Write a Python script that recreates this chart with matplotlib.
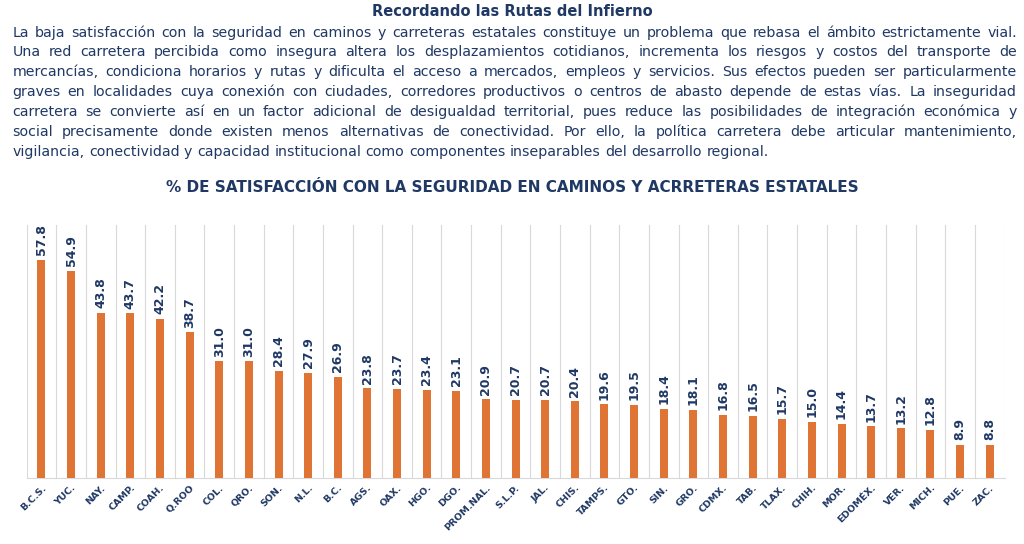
import matplotlib.pyplot as plt
import numpy as np

NAVY = '#1f3864'
ORANGE = '#e07434'

states = ['B.C.S.', 'YUC.', 'NAY.', 'CAMP.', 'COAH.', 'Q.ROO', 'COL.', 'QRO.', 'SON.', 'N.L.',
          'B.C.', 'AGS.', 'OAX.', 'HGO.', 'DGO.', 'PROM.NAL.', 'S.L.P.', 'JAL.', 'CHIS.', 'TAMPS.',
          'GTO.', 'SIN.', 'GRO.', 'CDMX.', 'TAB.', 'TLAX.', 'CHIH.', 'MOR.', 'EDOMÉX.', 'VER.',
          'MICH.', 'PUE.', 'ZAC.']
values = [57.8, 54.9, 43.8, 43.7, 42.2, 38.7, 31.0, 31.0, 28.4, 27.9,
          26.9, 23.8, 23.7, 23.4, 23.1, 20.9, 20.7, 20.7, 20.4, 19.6,
          19.5, 18.4, 18.1, 16.8, 16.5, 15.7, 15.0, 14.4, 13.7, 13.2,
          12.8, 8.9, 8.8]

paragraph = [
    "La baja satisfacción con la seguridad en caminos y carreteras estatales constituye un problema que rebasa el ámbito estrictamente vial.",
    "Una red carretera percibida como insegura altera los desplazamientos cotidianos, incrementa los riesgos y costos del transporte de",
    "mercancías, condiciona horarios y rutas y dificulta el acceso a mercados, empleos y servicios. Sus efectos pueden ser particularmente",
    "graves en localidades cuya conexión con ciudades, corredores productivos o centros de abasto depende de estas vías. La inseguridad",
    "carretera se convierte así en un factor adicional de desigualdad territorial, pues reduce las posibilidades de integración económica y",
    "social precisamente donde existen menos alternativas de conectividad. Por ello, la política carretera debe articular mantenimiento,",
    "vigilancia, conectividad y capacidad institucional como componentes inseparables del desarrollo regional.",
]


def justify_line(fig, line, y, left, right, last=False):
    """Place the words of one line so they fill the width from left to right."""
    renderer = fig.canvas.get_renderer()
    words = line.split()
    texts = [fig.text(0, y, w, ha='left', va='center', fontsize=10.2, color=NAVY) for w in words]
    widths = [t.get_window_extent(renderer).width / fig.bbox.width for t in texts]
    if last:
        gap = fig.text(0, 0, ' ', fontsize=10.2).get_window_extent(renderer).width / fig.bbox.width
        gap = max(gap, 0.0035)
    else:
        gap = (right - left - sum(widths)) / (len(words) - 1)
    pos = left
    for t, w in zip(texts, widths):
        t.set_x(pos)
        pos += w + gap


fig = plt.figure(figsize=(10.24, 5.44), dpi=100)
fig.text(0.5, 0.978, "Recordando las Rutas del Infierno", ha='center', va='center',
         fontsize=10.5, fontweight='bold', color=NAVY)
for i, line in enumerate(paragraph):
    justify_line(fig, line, 0.94 - i * 0.0365, 0.012, 0.993, last=(i == len(paragraph) - 1))
fig.text(0.5, 0.655, "% DE SATISFACCIÓN CON LA SEGURIDAD EN CAMINOS Y ACRRETERAS ESTATALES",
         ha='center', va='center', fontsize=11, fontweight='bold', color=NAVY)

ax = fig.add_axes([0.026, 0.121, 0.955, 0.465])
x = np.arange(len(states))
ax.bar(x, values, width=0.27, color=ORANGE, zorder=3)
for xi, v in zip(x, values):
    ax.text(xi, v + 1.2, f"{v:.1f}", rotation=90, ha='center', va='bottom',
            fontsize=9, fontweight='bold', color=NAVY)

ax.set_xlim(-0.5, len(states) - 0.5)
ax.set_ylim(0, 67)
ax.set_xticks(x)
ax.set_xticklabels(states, rotation=45, ha='right', rotation_mode='anchor',
                   fontsize=6.8, fontweight='bold', color=NAVY)
ax.set_xticks(np.arange(-0.5, len(states)), minor=True)
ax.tick_params(axis='x', which='both', length=0)
ax.set_yticks([])
ax.grid(True, which='minor', axis='x', color='#d9d9d9', linewidth=0.8, zorder=0)
for side in ['top', 'right', 'left']:
    ax.spines[side].set_visible(False)
ax.spines['bottom'].set_color('#d9d9d9')

plt.savefig('out.png')
